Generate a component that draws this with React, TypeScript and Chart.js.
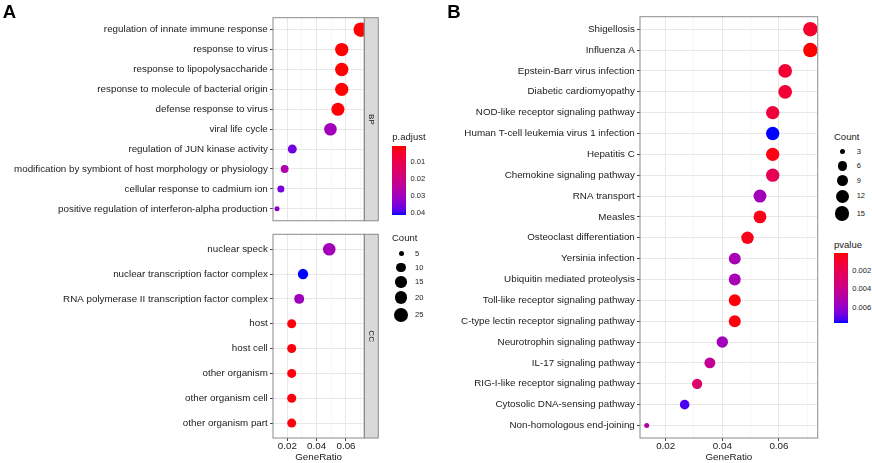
import React, { useEffect, useRef } from 'react';
import { Chart, registerables } from 'chart.js';

Chart.register(...registerables);

const FONT = '"Liberation Sans", Arial, Helvetica, sans-serif';
const TEXT = '#1a1a1a';
const BORDER = '#8a8a8a';
const TICK = '#444444';
const GRID_MAJOR = '#e8e8e8';
const GRID_MINOR = '#f1f1f1';

// ---------- Panel A : GO (BP facet) ----------
const bpTerms = [
  'regulation of innate immune response',
  'response to virus',
  'response to lipopolysaccharide',
  'response to molecule of bacterial origin',
  'defense response to virus',
  'viral life cycle',
  'regulation of JUN kinase activity',
  'modification by symbiont of host morphology or physiology',
  'cellular response to cadmium ion',
  'positive regulation of interferon-alpha production',
];
const bpRatio = [0.0701, 0.0571, 0.0571, 0.0571, 0.0545, 0.0494, 0.0234, 0.0182, 0.0156, 0.013];
const bpCount = [27, 22, 22, 22, 21, 19, 9, 7, 6, 5];
const bpPadjust = [0.0003, 0.0005, 0.0005, 0.0005, 0.0008, 0.03, 0.0366, 0.0271, 0.0358, 0.0333];

// ---------- Panel A : GO (CC facet) ----------
const ccTerms = [
  'nuclear speck',
  'nuclear transcription factor complex',
  'RNA polymerase II transcription factor complex',
  'host',
  'host cell',
  'other organism',
  'other organism cell',
  'other organism part',
];
const ccRatio = [0.0486, 0.0307, 0.0281, 0.023, 0.023, 0.023, 0.023, 0.023];
const ccCount = [19, 12, 11, 9, 9, 9, 9, 9];
const ccPadjust = [0.0298, 0.0416, 0.0305, 0.001, 0.001, 0.001, 0.001, 0.001];

// ---------- Panel B : KEGG ----------
const keggTerms = [
  'Shigellosis',
  'Influenza A',
  'Epstein-Barr virus infection',
  'Diabetic cardiomyopathy',
  'NOD-like receptor signaling pathway',
  'Human T-cell leukemia virus 1 infection',
  'Hepatitis C',
  'Chemokine signaling pathway',
  'RNA transport',
  'Measles',
  'Osteoclast differentiation',
  'Yersinia infection',
  'Ubiquitin mediated proteolysis',
  'Toll-like receptor signaling pathway',
  'C-type lectin receptor signaling pathway',
  'Neurotrophin signaling pathway',
  'IL-17 signaling pathway',
  'RIG-I-like receptor signaling pathway',
  'Cytosolic DNA-sensing pathway',
  'Non-homologous end-joining',
];
const keggRatio = [
  0.0711, 0.0711, 0.0622, 0.0622, 0.0578, 0.0578, 0.0578, 0.0578, 0.0533, 0.0533,
  0.0489, 0.0444, 0.0444, 0.0444, 0.0444, 0.04, 0.0356, 0.0311, 0.0267, 0.0133,
];
const keggCount = [16, 16, 14, 14, 13, 13, 13, 13, 12, 12, 11, 10, 10, 10, 10, 9, 8, 7, 6, 3];
const keggPvalue = [
  0.0009, 0.00005, 0.0011, 0.0011, 0.0013, 0.00776, 0.0003, 0.0022, 0.0056, 0.0004,
  0.0004, 0.0054, 0.0054, 0.0002, 0.0002, 0.0056, 0.0043, 0.0028, 0.0074, 0.0049,
];

// ---------- scales / legends ----------
const xTicksA = [0.02, 0.03, 0.04, 0.05, 0.06, 0.07];
const xTicksB = [0.02, 0.03, 0.04, 0.05, 0.06, 0.07];
const xRangeA = [0.01026, 0.07247];
const xRangeB = [0.01093, 0.07371];
const padjLimits = [0.0003, 0.0416];
const padjBreaks = [0.01, 0.02, 0.03, 0.04];
const pvalLimits = [0.00005, 0.00776];
const pvalBreaks = [0.002, 0.004, 0.006];
const countLimitsA = [5, 27];
const countBreaksA = [5, 10, 15, 20, 25];
const countLimitsB = [3, 16];
const countBreaksB = [3, 6, 9, 12, 15];

// ---------- colour ramp in CIELAB (red -> blue) ----------
function toLin(c: number) {
  const v = c / 255;
  return v <= 0.04045 ? v / 12.92 : Math.pow((v + 0.055) / 1.055, 2.4);
}
function fromLin(c: number) {
  const v = c <= 0.0031308 ? 12.92 * c : 1.055 * Math.pow(Math.max(c, 0), 1 / 2.4) - 0.055;
  return Math.round(Math.max(0, Math.min(1, v)) * 255);
}
function rgbToLab(rgb: number[]) {
  const R = toLin(rgb[0]), G = toLin(rgb[1]), B = toLin(rgb[2]);
  const X = (0.4124 * R + 0.3576 * G + 0.1805 * B) / 0.95047;
  const Y = 0.2126 * R + 0.7152 * G + 0.0722 * B;
  const Z = (0.0193 * R + 0.1192 * G + 0.9505 * B) / 1.08883;
  const f = (t: number) => (t > 0.008856 ? Math.cbrt(t) : 7.787 * t + 16 / 116);
  const fx = f(X), fy = f(Y), fz = f(Z);
  return [116 * fy - 16, 500 * (fx - fy), 200 * (fy - fz)];
}
function labToRgb(lab: number[]) {
  const fy = (lab[0] + 16) / 116;
  const fx = fy + lab[1] / 500;
  const fz = fy - lab[2] / 200;
  const fi = (t: number) => (t * t * t > 0.008856 ? t * t * t : (t - 16 / 116) / 7.787);
  const X = 0.95047 * fi(fx), Y = fi(fy), Z = 1.08883 * fi(fz);
  const R = 3.2406 * X - 1.5372 * Y - 0.4986 * Z;
  const G = -0.9689 * X + 1.8758 * Y + 0.0415 * Z;
  const B = 0.0557 * X - 0.204 * Y + 1.057 * Z;
  return [fromLin(R), fromLin(G), fromLin(B)];
}
const LAB_LOW = rgbToLab([255, 0, 0]);
const LAB_HIGH = rgbToLab([0, 0, 255]);
function ramp(t: number) {
  const u = Math.max(0, Math.min(1, t));
  const lab = LAB_LOW.map((v, i) => v + (LAB_HIGH[i] - v) * u);
  const [r, g, b] = labToRgb(lab);
  return `rgb(${r},${g},${b})`;
}
function colorFor(v: number, lim: number[]) {
  return ramp((v - lim[0]) / (lim[1] - lim[0]));
}
function diameter(c: number, lim: number[]) {
  const t = Math.max(0, Math.min(1, (c - lim[0]) / (lim[1] - lim[0])));
  return 5 + 9.5 * Math.sqrt(t);
}

// ---------- chart factory ----------
const STRIP_W = 14;

type PanelCfg = {
  terms: string[];
  ratios: number[];
  counts: number[];
  colorValues: number[];
  colorLimits: number[];
  countLimits: number[];
  xRange: number[];
  xTicks: number[];
  pad: { top: number; right: number; bottom: number; left: number };
  yWidth: number;
  xHeight: number;
  showX: boolean;
  strip?: string;
};

function isMajor(v: number) {
  return Math.round(v * 100) % 2 === 0;
}

function makePanel(canvas: HTMLCanvasElement, cfg: PanelCfg) {
  const n = cfg.terms.length;
  const zeroPad = (s: any) => {
    s.paddingLeft = 0;
    s.paddingRight = 0;
    s.paddingTop = 0;
    s.paddingBottom = 0;
  };
  const framePlugin = {
    id: 'frame',
    afterDraw(chart: any) {
      const { ctx, chartArea } = chart;
      const { left, top, right, bottom } = chartArea;
      ctx.save();
      if (cfg.strip) {
        ctx.fillStyle = '#d9d9d9';
        ctx.fillRect(right, top, STRIP_W, bottom - top);
        ctx.strokeStyle = BORDER;
        ctx.lineWidth = 1;
        ctx.strokeRect(right, top, STRIP_W, bottom - top);
        ctx.translate(right + STRIP_W / 2, (top + bottom) / 2);
        ctx.rotate(Math.PI / 2);
        ctx.fillStyle = TEXT;
        ctx.font = `8px ${FONT}`;
        ctx.textAlign = 'center';
        ctx.textBaseline = 'middle';
        ctx.fillText(cfg.strip, 0, 0);
      }
      ctx.restore();
      ctx.save();
      ctx.strokeStyle = BORDER;
      ctx.lineWidth = 1;
      ctx.strokeRect(left, top, right - left, bottom - top);
      ctx.restore();
    },
  };
  const radii = cfg.counts.map((c) => diameter(c, cfg.countLimits) / 2);
  const colors = cfg.colorValues.map((v) => colorFor(v, cfg.colorLimits));
  const tickFont = { family: FONT, size: 9.8, lineHeight: 1 };
  return new Chart(canvas, {
    type: 'scatter',
    data: {
      datasets: [
        {
          data: cfg.ratios.map((x, i) => ({ x, y: i })),
          pointRadius: radii,
          pointHoverRadius: radii,
          pointBackgroundColor: colors,
          pointHoverBackgroundColor: colors,
          pointBorderWidth: 0,
          pointHoverBorderWidth: 0,
          clip: 0,
        } as any,
      ],
    },
    options: {
      animation: false,
      responsive: false,
      events: [],
      layout: { padding: cfg.pad },
      plugins: { legend: { display: false }, tooltip: { enabled: false } },
      scales: {
        x: {
          type: 'linear',
          min: cfg.xRange[0],
          max: cfg.xRange[1],
          afterBuildTicks: (s: any) => {
            s.ticks = cfg.xTicks.map((v) => ({ value: v }));
          },
          afterFit: (s: any) => {
            s.height = cfg.xHeight;
            zeroPad(s);
          },
          grid: {
            color: (c: any) => (c.tick && !isMajor(c.tick.value) ? GRID_MINOR : GRID_MAJOR),
            lineWidth: (c: any) => (c.tick && !isMajor(c.tick.value) ? 0.6 : 1),
            drawTicks: cfg.showX,
            tickLength: 3,
            tickWidth: 1,
            tickColor: (c: any) => (c.tick && isMajor(c.tick.value) ? TICK : 'rgba(0,0,0,0)'),
          },
          border: { display: false },
          ticks: {
            display: cfg.showX,
            autoSkip: false,
            maxRotation: 0,
            minRotation: 0,
            padding: 0.8,
            color: TEXT,
            font: tickFont,
            callback: (v: any) => (isMajor(Number(v)) ? Number(v).toFixed(2) : ''),
          },
          title: {
            display: cfg.showX,
            text: 'GeneRatio',
            color: TEXT,
            font: { family: FONT, size: 9.8, lineHeight: 1 },
            padding: { top: 0, bottom: 0.4 },
          },
        },
        y: {
          type: 'linear',
          reverse: true,
          min: -0.6,
          max: n - 0.4,
          afterBuildTicks: (s: any) => {
            s.ticks = cfg.terms.map((_, i) => ({ value: i }));
          },
          afterFit: (s: any) => {
            s.width = cfg.yWidth;
            zeroPad(s);
          },
          grid: {
            color: GRID_MAJOR,
            lineWidth: 1,
            drawTicks: true,
            tickLength: 3,
            tickWidth: 1,
            tickColor: TICK,
          },
          border: { display: false },
          ticks: {
            autoSkip: false,
            padding: 2.2,
            color: TEXT,
            font: tickFont,
            callback: (v: any) => cfg.terms[Math.round(Number(v))] ?? '',
          },
        },
      },
    } as any,
    plugins: [framePlugin],
  });
}

// ---------- HTML legend pieces ----------
function Txt(props: { x: number; cy: number; size: number; children: React.ReactNode; bold?: boolean }) {
  const { x, cy, size, children, bold } = props;
  return (
    <div
      style={{
        position: 'absolute',
        left: x,
        top: cy - size / 2,
        fontSize: size,
        lineHeight: `${size}px`,
        height: size,
        whiteSpace: 'nowrap',
        fontWeight: bold ? 700 : 400,
        color: TEXT,
      }}
    >
      {children}
    </div>
  );
}

function ColorBar(props: {
  title: string;
  titleCy: number;
  x: number;
  top: number;
  w: number;
  h: number;
  limits: number[];
  breaks: number[];
  labelX: number;
  digits: number;
}) {
  const { title, titleCy, x, top, w, h, limits, breaks, labelX, digits } = props;
  const stops: string[] = [];
  for (let i = 0; i <= 20; i++) stops.push(`${ramp(i / 20)} ${(i / 20) * 100}%`);
  const yOf = (v: number) => top + ((v - limits[0]) / (limits[1] - limits[0])) * h;
  return (
    <>
      <Txt x={x} cy={titleCy} size={9.5}>{title}</Txt>
      <div
        style={{
          position: 'absolute',
          left: x,
          top,
          width: w,
          height: h,
          background: `linear-gradient(to bottom, ${stops.join(', ')})`,
        }}
      />
      {breaks.map((b) => (
        <Txt key={b} x={labelX} cy={yOf(b)} size={7.5}>{b.toFixed(digits)}</Txt>
      ))}
    </>
  );
}

function SizeLegend(props: {
  titleX: number;
  titleCy: number;
  firstCy: number;
  dotX: number;
  labelX: number;
  breaks: number[];
  limits: number[];
}) {
  const { titleX, titleCy, firstCy, dotX, labelX, breaks, limits } = props;
  const ds = breaks.map((b) => diameter(b, limits));
  const hs = ds.map((d) => Math.max(14.35, 1.28 * d));
  const cys: number[] = [];
  let cy = firstCy;
  ds.forEach((_, i) => {
    if (i > 0) cy += (hs[i - 1] + hs[i]) / 2;
    cys.push(cy);
  });
  return (
    <>
      <Txt x={titleX} cy={titleCy} size={9.5}>Count</Txt>
      {breaks.map((b, i) => (
        <React.Fragment key={b}>
          <div
            style={{
              position: 'absolute',
              left: dotX - ds[i] / 2,
              top: cys[i] - ds[i] / 2,
              width: ds[i],
              height: ds[i],
              borderRadius: '50%',
              background: '#000',
            }}
          />
          <Txt x={labelX} cy={cys[i]} size={7.5}>{String(b)}</Txt>
        </React.Fragment>
      ))}
    </>
  );
}

export default function App() {
  const bpRef = useRef<HTMLCanvasElement>(null);
  const ccRef = useRef<HTMLCanvasElement>(null);
  const kgRef = useRef<HTMLCanvasElement>(null);

  useEffect(() => {
    document.body.style.margin = '0';
    const charts: Chart[] = [];
    if (bpRef.current) {
      charts.push(
        makePanel(bpRef.current, {
          terms: bpTerms,
          ratios: bpRatio,
          counts: bpCount,
          colorValues: bpPadjust,
          colorLimits: padjLimits,
          countLimits: countLimitsA,
          xRange: xRangeA,
          xTicks: xTicksA,
          pad: { top: 17.7, right: 380 - 364.3, bottom: 2, left: 0 },
          yWidth: 273,
          xHeight: 0,
          showX: false,
          strip: 'BP',
        })
      );
    }
    if (ccRef.current) {
      charts.push(
        makePanel(ccRef.current, {
          terms: ccTerms,
          ratios: ccRatio,
          counts: ccCount,
          colorValues: ccPadjust,
          colorLimits: padjLimits,
          countLimits: countLimitsA,
          xRange: xRangeA,
          xTicks: xTicksA,
          pad: { top: 2.7, right: 380 - 364.3, bottom: 0, left: 0 },
          yWidth: 273,
          xHeight: 25,
          showX: true,
          strip: 'CC',
        })
      );
    }
    if (kgRef.current) {
      charts.push(
        makePanel(kgRef.current, {
          terms: keggTerms,
          ratios: keggRatio,
          counts: keggCount,
          colorValues: keggPvalue,
          colorLimits: pvalLimits,
          countLimits: countLimitsB,
          xRange: xRangeB,
          xTicks: xTicksB,
          pad: { top: 16.7, right: 5, bottom: 0, left: 0 },
          yWidth: 200,
          xHeight: 25,
          showX: true,
        })
      );
    }
    return () => charts.forEach((c) => c.destroy());
  }, []);

  return (
    <div
      style={{
        position: 'relative',
        width: 872,
        height: 463,
        overflow: 'hidden',
        background: '#ffffff',
        fontFamily: FONT,
        color: TEXT,
      }}
    >
      <canvas ref={bpRef} width={380} height={228} style={{ position: 'absolute', left: 0, top: 0 }} />
      <canvas ref={ccRef} width={380} height={235} style={{ position: 'absolute', left: 0, top: 228 }} />
      <canvas ref={kgRef} width={385} height={463} style={{ position: 'absolute', left: 440, top: 0 }} />

      <div style={{ position: 'absolute', left: 2.7, top: 2.6, fontSize: 18.5, lineHeight: '18.5px', fontWeight: 700, color: '#000' }}>A</div>
      <div style={{ position: 'absolute', left: 447.3, top: 2.6, fontSize: 18.5, lineHeight: '18.5px', fontWeight: 700, color: '#000' }}>B</div>

      <ColorBar
        title="p.adjust"
        titleCy={136.7}
        x={392.3}
        top={145.7}
        w={13.7}
        h={69.3}
        limits={padjLimits}
        breaks={padjBreaks}
        labelX={410.5}
        digits={2}
      />
      <SizeLegend
        titleX={392}
        titleCy={238}
        firstCy={253.3}
        dotX={401}
        labelX={415}
        breaks={countBreaksA}
        limits={countLimitsA}
      />

      <SizeLegend
        titleX={834}
        titleCy={136.7}
        firstCy={151.7}
        dotX={842.3}
        labelX={856.7}
        breaks={countBreaksB}
        limits={countLimitsB}
      />
      <ColorBar
        title="pvalue"
        titleCy={245}
        x={834}
        top={253.3}
        w={14.3}
        h={70}
        limits={pvalLimits}
        breaks={pvalBreaks}
        labelX={852.3}
        digits={3}
      />
    </div>
  );
}
